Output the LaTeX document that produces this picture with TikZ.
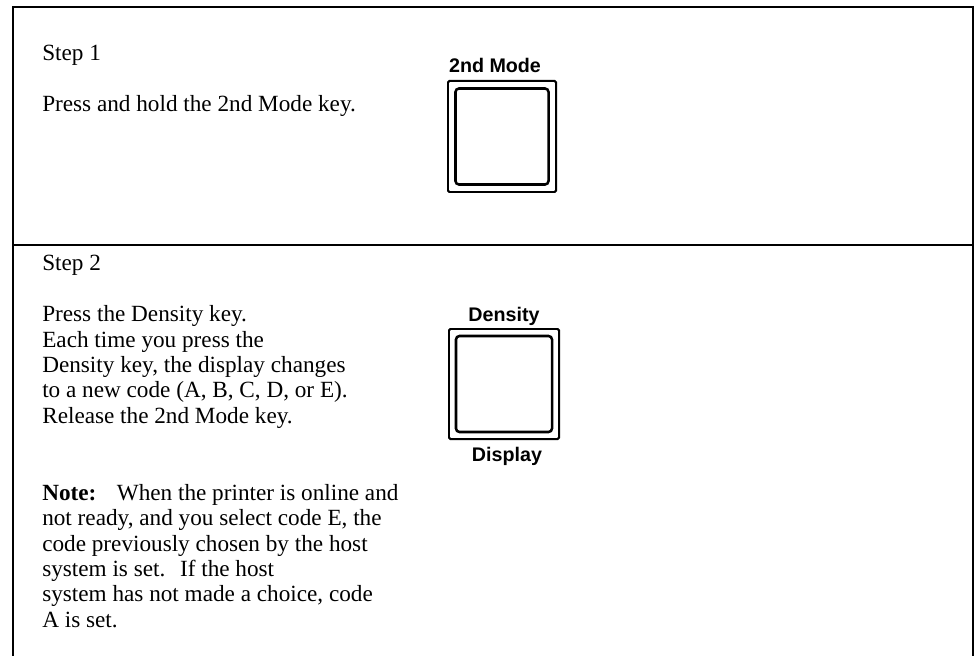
\documentclass[tikz,border=0pt]{standalone}
\usepackage{fontspec}
\setmainfont{Liberation Serif}
\setsansfont{Liberation Sans}
\usetikzlibrary{positioning}
\tikzset{
  frame/.style={line width=1.3pt},
  steptext/.style={anchor=base west, inner sep=0pt, align=left, font=\fontsize{16.5}{18}\selectfont},
  keyrim/.style={draw, line width=1.4pt, rounded corners=1pt, inner sep=0pt},
  keyface/.style={draw, line width=1.8pt, rounded corners=2.5pt, inner sep=0pt},
  keylabel/.style={anchor=base, inner sep=0pt, font=\sffamily\bfseries\fontsize{14}{16}\selectfont},
}

\begin{document}
\begin{tikzpicture}[x=0.025cm, y=-0.025cm]
  \useasboundingbox (0,0) rectangle (974,656);
  % frame, open at the bottom
  \coordinate (tl) at (13,7);
  \coordinate (tr) at (973,7);
  \draw[frame] (13,656) -- (tl) -- (tr) -- (973,656);
  \draw[frame] (13,245) -- (973,245);

  % step 1
  \node[steptext] (s1) at (42,61) {Step 1};
  \node[steptext] (s1text) at (42,112) {Press and hold the 2nd Mode key.};
  \node[keyrim, minimum width=2.7cm, minimum height=2.775cm] (modekey) at (502,136.5) {};
  \node[keyface, minimum width=2.325cm, minimum height=2.4cm] (modeface) at (modekey) {};
  \node[keylabel] (modelbl) at (495,73) {2nd Mode};

  % step 2 (multi-line nodes sit on their last baseline)
  \node[steptext] (s2) at (42,271) {Step 2};
  \node[steptext] (s2text) at (42,423) {Press the Density key.\\
    Each time you press the\\
    Density key, the display changes\\
    to a new code (A, B, C, D, or E).\\
    Release the 2nd Mode key.};
  \node[steptext] (note) at (42,627) {\textbf{Note:}\hspace{0.55em} When the printer is online and\\
    not ready, and you select code E, the\\
    code previously chosen by the host\\
    system is set.\hspace{0.3em} If the host\\
    system has not made a choice, code\\
    A is set.};
  \node[keyrim, minimum width=2.75cm, minimum height=2.75cm] (densekey) at (504,384) {};
  \node[keyface, minimum width=2.4cm, minimum height=2.4cm] (denseface) at (densekey) {};
  \node[keylabel] (denselbl) at (504,321) {Density};
  \node[keylabel] (displbl) at (507,461) {Display};
\end{tikzpicture}
\end{document}
